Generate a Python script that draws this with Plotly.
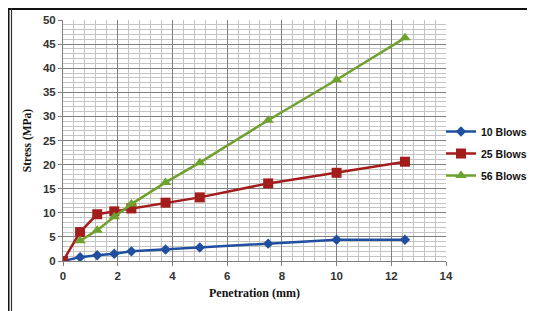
import plotly.graph_objects as go

penetration = [0, 0.625, 1.25, 1.875, 2.5, 3.75, 5, 7.5, 10, 12.5]
blows10 = [0, 0.8, 1.2, 1.5, 2.0, 2.4, 2.8, 3.6, 4.4, 4.4]
blows25 = [0, 6.0, 9.7, 10.3, 10.9, 12.1, 13.2, 16.1, 18.3, 20.6]
pen56 = [0.625, 1.25, 1.875, 2.5, 3.75, 5, 7.5, 10, 12.5]
blows56 = [4.2, 6.4, 9.2, 11.8, 16.3, 20.4, 29.2, 37.6, 46.3]
names = ["10 Blows", "25 Blows", "56 Blows"]
x_ticks = [0, 2, 4, 6, 8, 10, 12, 14]
y_ticks = [0, 5, 10, 15, 20, 25, 30, 35, 40, 45, 50]

# page body has an 8px margin; figure sized so it ends at the window edge
OFF = 8
W, H = 535 - OFF, 311 - OFF
L, R, T, B = 55, 89, 12, 50
pw, ph = W - L - R, H - T - B

def px(xp):  # window pixel -> paper x
    return (xp - OFF - L) / pw

def py(yp):  # window pixel -> paper y
    return (H - B - (yp - OFF)) / ph

fig = go.Figure()
fig.add_trace(go.Scatter(x=penetration, y=blows10, name=names[0], mode="lines+markers",
                         legendgroup="a",
                         line=dict(color="#1f4f9e", width=2.5),
                         marker=dict(symbol="diamond", size=8, color="#1f4f9e")))
fig.add_trace(go.Scatter(x=penetration, y=blows25, name=names[1], mode="lines+markers",
                         legendgroup="b",
                         line=dict(color="#a31d1d", width=2.5),
                         marker=dict(symbol="square", size=10, color="#a31d1d")))
fig.add_trace(go.Scatter(x=pen56, y=blows56, name=names[2], mode="lines+markers",
                         legendgroup="c",
                         line=dict(color="#6fa12e", width=2.5),
                         marker=dict(symbol="triangle-up", size=10, color="#6fa12e")))

tickfont = dict(family="Liberation Sans", size=11.5, color="#333333", weight="bold")

fig.update_layout(
    width=W, height=H,
    margin=dict(l=L, r=R, t=T, b=B, pad=0, autoexpand=False),
    paper_bgcolor="white", plot_bgcolor="white",
    showlegend=True,
    legend=dict(x=px(441), y=py(117), xanchor="left", yanchor="top",
                font=dict(family="Liberation Sans", size=10.5, color="#111111", weight="bold"),
                traceorder="grouped", tracegroupgap=3, itemwidth=30,
                bgcolor="rgba(0,0,0,0)"),
    xaxis=dict(range=[0, 14], tickvals=x_ticks, ticktext=[str(v) for v in x_ticks],
               tickfont=tickfont, showgrid=True, gridcolor="#7f7f7f", gridwidth=1,
               minor=dict(dtick=0.4, tick0=0, showgrid=True, gridcolor="#c4c4c4", gridwidth=1),
               showline=True, linecolor="#7f7f7f", linewidth=1, zeroline=False,
               ticks="outside", ticklen=4, tickcolor="#7f7f7f",
               title=dict(text="Penetration (mm)",
                          font=dict(family="Liberation Serif", size=12, color="#111111", weight="bold"),
                          standoff=7)),
    yaxis=dict(range=[0, 50], tickvals=y_ticks, ticktext=[str(v) for v in y_ticks],
               tickfont=tickfont, showgrid=True, gridcolor="#7f7f7f", gridwidth=1,
               minor=dict(dtick=1, tick0=0, showgrid=True, gridcolor="#c4c4c4", gridwidth=1),
               showline=True, linecolor="#7f7f7f", linewidth=1, zeroline=False,
               ticks="outside", ticklen=4, tickcolor="#7f7f7f",
               title=dict(text="Stress (MPa)",
                          font=dict(family="Liberation Serif", size=11.5, color="#111111", weight="bold"),
                          standoff=8)),
    shapes=[
        dict(type="line", xref="paper", yref="paper", x0=px(8), x1=px(535), y0=py(9), y1=py(9),
             line=dict(color="#111111", width=2)),
        dict(type="line", xref="paper", yref="paper", x0=px(8.75), x1=px(8.75), y0=py(8), y1=py(311),
             line=dict(color="#111111", width=1.5)),
        dict(type="line", xref="paper", yref="paper", x0=px(11.5), x1=px(11.5), y0=py(8), y1=py(311),
             line=dict(color="#333333", width=1.2)),
    ],
)

fig.write_html("out.html")
